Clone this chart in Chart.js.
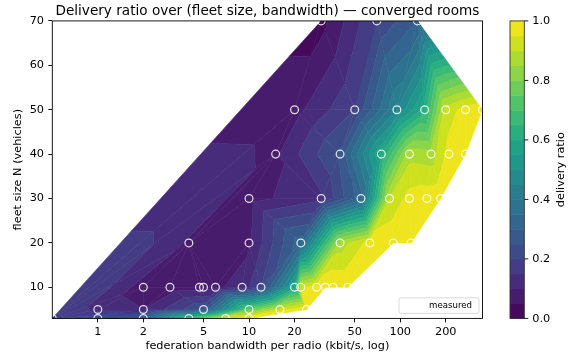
<!DOCTYPE html>
<html>
<head>
<meta charset="utf-8">
<script src="https://cdn.jsdelivr.net/npm/chart.js@4.4.1/dist/chart.umd.min.js"></script>
<style>
  html, body { margin: 0; padding: 0; background: #fff; }
</style>
</head>
<body>
<canvas id="chart" width="572" height="361"></canvas>
<script>
// measured rooms, row by row (fleet size 70 down to 3)
const bandwidth = [
  30, 70, 130,
  20, 50, 95, 145, 200, 270, 350,
  15, 40, 75, 115, 160, 210, 270,
  10, 30, 55, 85, 115, 150, 185,
  4, 10, 22, 40, 63, 90, 118,
  2, 3, 4.7, 5, 6, 9, 12, 20, 22, 28, 32, 36, 45,
  1, 2, 5, 10, 16, 24,
  0.5, 1, 2, 4, 7, 10
];
const fleetSize = [
  70, 70, 70,
  50, 50, 50, 50, 50, 50, 50,
  40, 40, 40, 40, 40, 40, 40,
  30, 30, 30, 30, 30, 30, 30,
  20, 20, 20, 20, 20, 20, 20,
  10, 10, 10, 10, 10, 10, 10, 10, 10, 10, 10, 10, 10,
  5, 5, 5, 5, 5, 5,
  3, 3, 3, 3, 3, 3
];
const deliveryRatio = [
  0.03, 0.20, 0.30,
  0.08, 0.20, 0.45, 0.62, 0.92, 0.97, 1.00,
  0.09, 0.26, 0.60, 0.88, 0.87, 0.97, 0.98,
  0.08, 0.14, 0.33, 0.90, 0.97, 0.98, 0.99,
  0.09, 0.09, 0.33, 0.87, 0.97, 1.00, 1.00,
  0.07, 0.07, 0.08, 0.08, 0.09, 0.12, 0.20, 0.58, 0.93, 0.98, 1.00, 1.00, 1.00,
  0.14, 0.10, 0.25, 0.75, 0.92, 1.00,
  0.20, 0.23, 0.30, 0.68, 0.96, 1.00
];

const levels = [0, 0.05, 0.1, 0.15, 0.2, 0.25, 0.3, 0.35, 0.4, 0.45, 0.5,
                0.55, 0.6, 0.65, 0.7, 0.75, 0.8, 0.85, 0.9, 0.95, 1.0];
const xTicks = [1, 2, 5, 10, 20, 50, 100, 200];
const yTicks = [10, 20, 30, 40, 50, 60, 70];
const cbarTicks = [0, 0.2, 0.4, 0.6, 0.8, 1.0];

// viridis at 0, 0.05, ... 1.0
const viridis = ['#440154','#471365','#482475','#463480','#414487','#3b528b','#355f8d',
  '#2f6c8e','#2a788e','#25848e','#21918c','#1e9c89','#22a884','#2fb47c','#44bf70',
  '#5ec962','#7ad151','#9bd93c','#bddf26','#dfe318','#fde725'];

function mix(c1, c2) {
  const a = parseInt(c1.slice(1), 16), b = parseInt(c2.slice(1), 16);
  const r = Math.round(((a >> 16) + (b >> 16)) / 2);
  const g = Math.round((((a >> 8) & 255) + ((b >> 8) & 255)) / 2);
  const bl = Math.round(((a & 255) + (b & 255)) / 2);
  return 'rgb(' + r + ',' + g + ',' + bl + ')';
}
const bandColors = [];
for (let k = 0; k < levels.length - 1; k++) bandColors.push(mix(viridis[k], viridis[k + 1]));

// Delaunay triangulation in (log10 bandwidth, N) space, brute force
function delaunay(pts) {
  const tris = [];
  const n = pts.length;
  for (let i = 0; i < n; i++) for (let j = i + 1; j < n; j++) for (let k = j + 1; k < n; k++) {
    const a = pts[i], b = pts[j], c = pts[k];
    const d = 2 * (a[0] * (b[1] - c[1]) + b[0] * (c[1] - a[1]) + c[0] * (a[1] - b[1]));
    if (Math.abs(d) < 1e-9) continue;
    const a2 = a[0] * a[0] + a[1] * a[1], b2 = b[0] * b[0] + b[1] * b[1], c2 = c[0] * c[0] + c[1] * c[1];
    const ux = (a2 * (b[1] - c[1]) + b2 * (c[1] - a[1]) + c2 * (a[1] - b[1])) / d;
    const uy = (a2 * (c[0] - b[0]) + b2 * (a[0] - c[0]) + c2 * (b[0] - a[0])) / d;
    const r2 = (a[0] - ux) ** 2 + (a[1] - uy) ** 2;
    let ok = true;
    for (let m = 0; m < n; m++) {
      if (m === i || m === j || m === k) continue;
      const dd = (pts[m][0] - ux) ** 2 + (pts[m][1] - uy) ** 2;
      if (dd < r2 * (1 - 1e-9)) { ok = false; break; }
    }
    if (ok) tris.push([i, j, k]);
  }
  return tris;
}
const triangles = delaunay(bandwidth.map((b, i) => [Math.log10(b), fleetSize[i]]));

function clipPoly(poly, t, above) {
  const out = [];
  for (let i = 0; i < poly.length; i++) {
    const p = poly[i], q = poly[(i + 1) % poly.length];
    const pin = above ? p.z >= t : p.z <= t;
    const qin = above ? q.z >= t : q.z <= t;
    if (pin) out.push(p);
    if (pin !== qin) {
      const f = (t - p.z) / (q.z - p.z);
      out.push({ u: p.u + f * (q.u - p.u), v: p.v + f * (q.v - p.v), z: t });
    }
  }
  return out;
}

const FONT = 'DejaVu Sans';

const contourPlugin = {
  id: 'tricontourf',
  beforeDatasetsDraw(chart) {
    const { ctx, chartArea: ca, scales: { x, y } } = chart;
    ctx.save();
    ctx.beginPath();
    ctx.rect(ca.left, ca.top, ca.width, ca.height);
    ctx.clip();
    ctx.lineWidth = 0.6;
    ctx.lineJoin = 'round';
    for (const tri of triangles) {
      const zs = tri.map(i => deliveryRatio[i]);
      if (Math.min(...zs) >= 1) continue; // upper bound not filled
      const poly = tri.map(i => ({ u: Math.log10(bandwidth[i]), v: fleetSize[i], z: deliveryRatio[i] }));
      for (let k = 0; k < levels.length - 1; k++) {
        let p = clipPoly(poly, levels[k], true);
        if (p.length < 3) continue;
        p = clipPoly(p, levels[k + 1], false);
        if (p.length < 3) continue;
        ctx.beginPath();
        p.forEach((q, j) => {
          const px = x.getPixelForValue(Math.pow(10, q.u));
          const py = y.getPixelForValue(q.v);
          if (j) ctx.lineTo(px, py); else ctx.moveTo(px, py);
        });
        ctx.closePath();
        ctx.fillStyle = bandColors[k];
        ctx.strokeStyle = bandColors[k];
        ctx.fill();
        ctx.stroke();
      }
    }
    ctx.restore();
  },
  afterDatasetsDraw(chart) {
    // legend box, lower right inside the axes
    const { ctx, chartArea: ca } = chart;
    const bw = 80, bh = 15.6;
    const bx = ca.right - 3.5 - bw, by = ca.bottom - 5 - bh;
    ctx.save();
    ctx.beginPath();
    ctx.roundRect(bx, by, bw, bh, 2);
    ctx.fillStyle = 'rgba(255,255,255,0.8)';
    ctx.fill();
    ctx.strokeStyle = '#d0d0d0';
    ctx.lineWidth = 0.8;
    ctx.stroke();
    ctx.fillStyle = '#000';
    ctx.font = '8.6px "' + FONT + '"';
    ctx.textAlign = 'right';
    ctx.textBaseline = 'middle';
    ctx.fillText(chart.data.datasets[0].label, bx + bw - 7, by + bh / 2);
    ctx.restore();
  },
  afterDraw(chart) {
    const { ctx, chartArea: ca } = chart;
    ctx.save();
    // axes frame
    ctx.strokeStyle = '#000';
    ctx.lineWidth = 0.9;
    ctx.strokeRect(ca.left, ca.top, ca.width, ca.height);
    // colorbar
    const cx = ca.right + 27.5, cw = 14.3;
    const top = ca.top, bottom = ca.bottom;
    const cy = v => bottom - (v - levels[0]) / (levels[levels.length - 1] - levels[0]) * (bottom - top);
    for (let k = 0; k < levels.length - 1; k++) {
      ctx.fillStyle = bandColors[k];
      ctx.fillRect(cx, cy(levels[k + 1]), cw, cy(levels[k]) - cy(levels[k + 1]) + 0.5);
    }
    ctx.strokeStyle = '#333';
    ctx.lineWidth = 0.9;
    ctx.strokeRect(cx, top, cw, bottom - top);
    ctx.fillStyle = '#000';
    ctx.font = '11.3px "' + FONT + '"';
    ctx.textAlign = 'left';
    ctx.textBaseline = 'middle';
    for (const t of cbarTicks) {
      const py = cy(t);
      ctx.beginPath();
      ctx.moveTo(cx + cw, py);
      ctx.lineTo(cx + cw + 4, py);
      ctx.strokeStyle = '#000';
      ctx.stroke();
      ctx.fillText(t.toFixed(1), cx + cw + 8, py + 0.5);
    }
    ctx.translate(cx + cw + 36.5, (top + bottom) / 2);
    ctx.rotate(-Math.PI / 2);
    ctx.textAlign = 'center';
    ctx.fillText('delivery ratio', 0, 0);
    ctx.restore();
  }
};

const tickFont = { family: FONT, size: 11.3 };

new Chart(document.getElementById('chart'), {
  type: 'scatter',
  data: {
    datasets: [{
      label: 'measured',
      data: bandwidth.map((b, i) => ({ x: b, y: fleetSize[i] })),
      pointRadius: 3.9,
      pointHoverRadius: 3.9,
      borderWidth: 1.25,
      borderColor: 'rgba(255,255,255,0.85)',
      backgroundColor: 'rgba(0,0,0,0)',
      clip: 0
    }]
  },
  options: {
    responsive: false,
    animation: false,
    devicePixelRatio: 1,
    events: [],
    layout: { padding: { left: 0, right: 89.5, top: 0, bottom: 0 } },
    plugins: {
      legend: { display: false },
      tooltip: { enabled: false },
      title: {
        display: true,
        fullSize: false,
        text: 'Delivery ratio over (fleet size, bandwidth) \u2014 converged rooms',
        color: '#000',
        font: { family: FONT, size: 13.6, weight: 'normal' },
        padding: { top: 3, bottom: 1.6 }
      }
    },
    scales: {
      x: {
        type: 'logarithmic',
        min: 0.5,
        max: 350,
        afterBuildTicks: s => { s.ticks = xTicks.map(v => ({ value: v })); },
        afterFit: s => { s.height = 42.6; },
        ticks: { callback: v => String(v), font: tickFont, color: '#000', padding: 3, maxRotation: 0, autoSkip: false },
        grid: { display: true, drawOnChartArea: false, tickLength: 4, color: '#000', lineWidth: 0.9 },
        border: { display: false },
        title: { display: true, text: 'federation bandwidth per radio (kbit/s, log)', color: '#000', font: tickFont, padding: { top: 0, bottom: 7.7 } }
      },
      y: {
        type: 'linear',
        min: 3,
        max: 70,
        afterBuildTicks: s => { s.ticks = yTicks.map(v => ({ value: v })); },
        afterFit: s => { s.width = 52.3; },
        ticks: { font: tickFont, color: '#000', padding: 4.3 },
        grid: { display: true, drawOnChartArea: false, tickLength: 4, color: '#000', lineWidth: 0.9 },
        border: { display: false },
        title: { display: true, text: 'fleet size N (vehicles)', color: '#000', font: tickFont, padding: { top: 11.2, bottom: 0 } }
      }
    }
  },
  plugins: [contourPlugin]
});
</script>
</body>
</html>
